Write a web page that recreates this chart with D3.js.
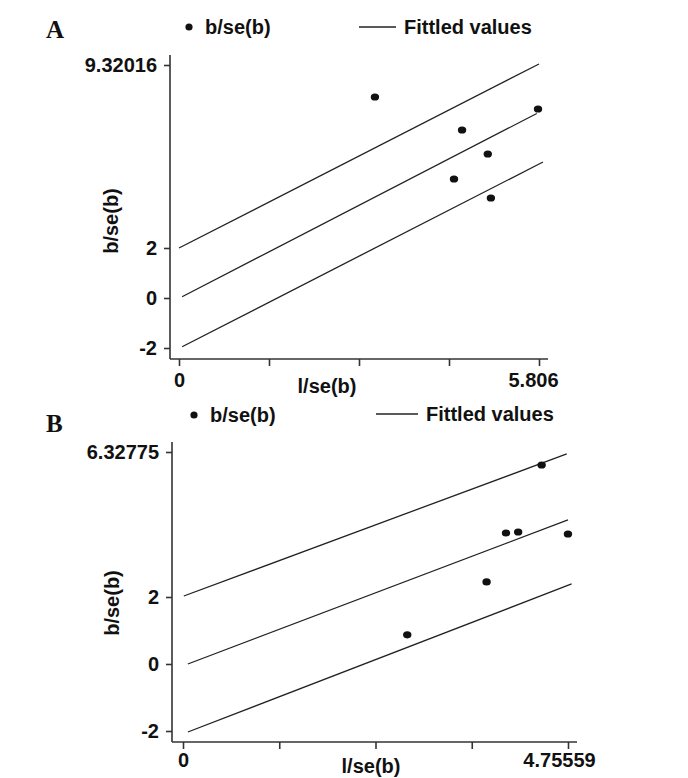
<!DOCTYPE html>
<html>
<head>
<meta charset="utf-8">
<script src="https://cdn.jsdelivr.net/npm/d3@7"></script>
<style>
  body { margin: 0; background: #fff; }
  svg text { font-family: "Liberation Sans", Arial, sans-serif; font-weight: bold; fill: #111; }
</style>
</head>
<body>
<div class="graph"></div>
<script>
// panel A values
var pointsA = [
    {x: 3.16, y: 8.04},
    {x: 5.79, y: 7.56},
    {x: 4.565, y: 6.72},
    {x: 4.98, y: 5.76},
    {x: 4.435, y: 4.76},
    {x: 5.03, y: 4.00}
];
var fitA = [
    [[0.00, 2.00], [5.806, 9.36]],
    [[0.05, 0.05], [5.77, 7.38]],
    [[0.05, -1.95], [5.87, 5.44]]
];
var yTicksA = [-2, 0, 2, 9.32016];
var xTicksA = [0, 1.4515, 2.903, 4.3545, 5.806];
var xLabelsA = ["0", "", "", "", "5.806"];

// panel B values
var pointsB = [
    {x: 2.77, y: 0.87},
    {x: 3.75, y: 2.45},
    {x: 3.99, y: 3.91},
    {x: 4.14, y: 3.94},
    {x: 4.755, y: 3.88},
    {x: 4.43, y: 5.94}
];
var fitB = [
    [[0.01, 2.03], [4.74, 6.27]],
    [[0.06, 0.00], [4.755, 4.30]],
    [[0.06, -2.03], [4.80, 2.39]]
];
var yTicksB = [-2, 0, 2, 6.32775];
var xTicksB = [0, 1.1889, 2.3778, 3.5667, 4.75559];
var xLabelsB = ["0", "", "", "", "4.75559"];

var svg = d3.select(".graph")
    .append("svg")
    .attr("width", 688)
    .attr("height", 778);

function drawPanel(cfg) {
    var g = svg.append("g");

    var x = d3.scaleLinear()
        .domain([cfg.xTicks[0], cfg.xTicks[cfg.xTicks.length - 1]])
        .range(cfg.xRange);
    var y = d3.scaleLinear()
        .domain([cfg.yTicks[0], cfg.yTicks[cfg.yTicks.length - 1]])
        .range(cfg.yRange);

    // axis lines (plot region is a bit bigger than the tick range)
    g.append("line")
        .attr("x1", cfg.axisX).attr("x2", cfg.axisX)
        .attr("y1", cfg.axisTop).attr("y2", cfg.axisY)
        .style("stroke", "#333").style("stroke-width", 1.6);
    g.append("line")
        .attr("x1", cfg.axisX).attr("x2", cfg.axisRight)
        .attr("y1", cfg.axisY).attr("y2", cfg.axisY)
        .style("stroke", "#333").style("stroke-width", 1.6);

    var yAxis = d3.axisLeft(y)
        .tickValues(cfg.yTicks)
        .tickSize(6)
        .tickPadding(7)
        .tickFormat(function(d) { return String(d); });
    var ya = g.append("g")
        .attr("transform", "translate(" + cfg.axisX + ",0)")
        .call(yAxis);
    ya.select(".domain").remove();
    ya.selectAll("line").style("stroke", "#333").style("stroke-width", 1.6);
    ya.selectAll("text")
        .attr("font-size", "20px")
        .attr("font-family", null)
        .attr("fill", null);

    var xAxis = d3.axisBottom(x)
        .tickValues(cfg.xTicks)
        .tickSize(7)
        .tickPadding(cfg.xPad)
        .tickFormat(function(d, i) { return cfg.xLabels[i]; });
    var xa = g.append("g")
        .attr("transform", "translate(0," + cfg.axisY + ")")
        .call(xAxis);
    xa.select(".domain").remove();
    xa.selectAll("line").style("stroke", "#333").style("stroke-width", 1.6);
    xa.selectAll("text")
        .attr("font-size", "20px")
        .attr("font-family", null)
        .attr("fill", null)
        .attr("dx", function(d, i) { return i === cfg.xTicks.length - 1 ? cfg.lastDx : 0; });

    // fitted lines
    var line = d3.line()
        .x(function(d) { return x(d[0]); })
        .y(function(d) { return y(d[1]); });
    g.selectAll("path.fit")
        .data(cfg.fit)
        .enter()
        .append("path")
        .attr("class", "fit")
        .attr("d", line)
        .style("fill", "none")
        .style("stroke", "#222")
        .style("stroke-width", 1.3);

    // points
    g.selectAll("ellipse.pt")
        .data(cfg.points)
        .enter()
        .append("ellipse")
        .attr("class", "pt")
        .attr("cx", function(d) { return x(d.x); })
        .attr("cy", function(d) { return y(d.y); })
        .attr("rx", 4.2)
        .attr("ry", 3.6)
        .style("fill", "#111");

    // axis titles
    g.append("text")
        .attr("transform", "translate(" + cfg.yTitle[0] + "," + cfg.yTitle[1] + ") rotate(-90)")
        .attr("text-anchor", "middle")
        .attr("font-size", "20px")
        .text("b/se(b)");
    g.append("text")
        .attr("x", cfg.xTitle[0])
        .attr("y", cfg.xTitle[1])
        .attr("text-anchor", "middle")
        .attr("font-size", "20px")
        .text("l/se(b)");

    // legend
    g.append("circle")
        .attr("cx", cfg.legDot[0]).attr("cy", cfg.legDot[1])
        .attr("r", 3.6)
        .style("fill", "#111");
    g.append("text")
        .attr("x", cfg.legDot[0] + 16)
        .attr("y", cfg.legDot[1] + 7)
        .attr("font-size", "20px")
        .text("b/se(b)");
    g.append("line")
        .attr("x1", cfg.legLine[0]).attr("x2", cfg.legLine[1])
        .attr("y1", cfg.legLine[2]).attr("y2", cfg.legLine[2])
        .style("stroke", "#222").style("stroke-width", 1.3);
    g.append("text")
        .attr("x", cfg.legLine[1] + 8)
        .attr("y", cfg.legLine[2] + 7)
        .attr("font-size", "20px")
        .text("Fittled values");

    // panel letter
    g.append("text")
        .attr("x", 46)
        .attr("y", cfg.letterY)
        .attr("font-size", "25px")
        .style("font-family", "'Liberation Serif', 'Times New Roman', serif")
        .text(cfg.letter);
}

drawPanel({
    letter: "A", letterY: 38,
    points: pointsA, fit: fitA,
    yTicks: yTicksA, xTicks: xTicksA, xLabels: xLabelsA,
    xRange: [179, 539], yRange: [348, 65],
    axisX: 170, axisY: 359, axisTop: 55, axisRight: 548,
    xPad: 7, lastDx: -6,
    yTitle: [118, 221], xTitle: [327, 393],
    legDot: [189, 27], legLine: [359, 396, 27]
});

drawPanel({
    letter: "B", letterY: 432,
    points: pointsB, fit: fitB,
    yTicks: yTicksB, xTicks: xTicksB, xLabels: xLabelsB,
    xRange: [183, 568], yRange: [731, 452],
    axisX: 172, axisY: 742, axisTop: 442, axisRight: 577,
    xPad: 4, lastDx: -9,
    yTitle: [119, 603], xTitle: [371, 773],
    legDot: [194, 415], legLine: [376, 418, 414]
});
</script>
</body>
</html>
